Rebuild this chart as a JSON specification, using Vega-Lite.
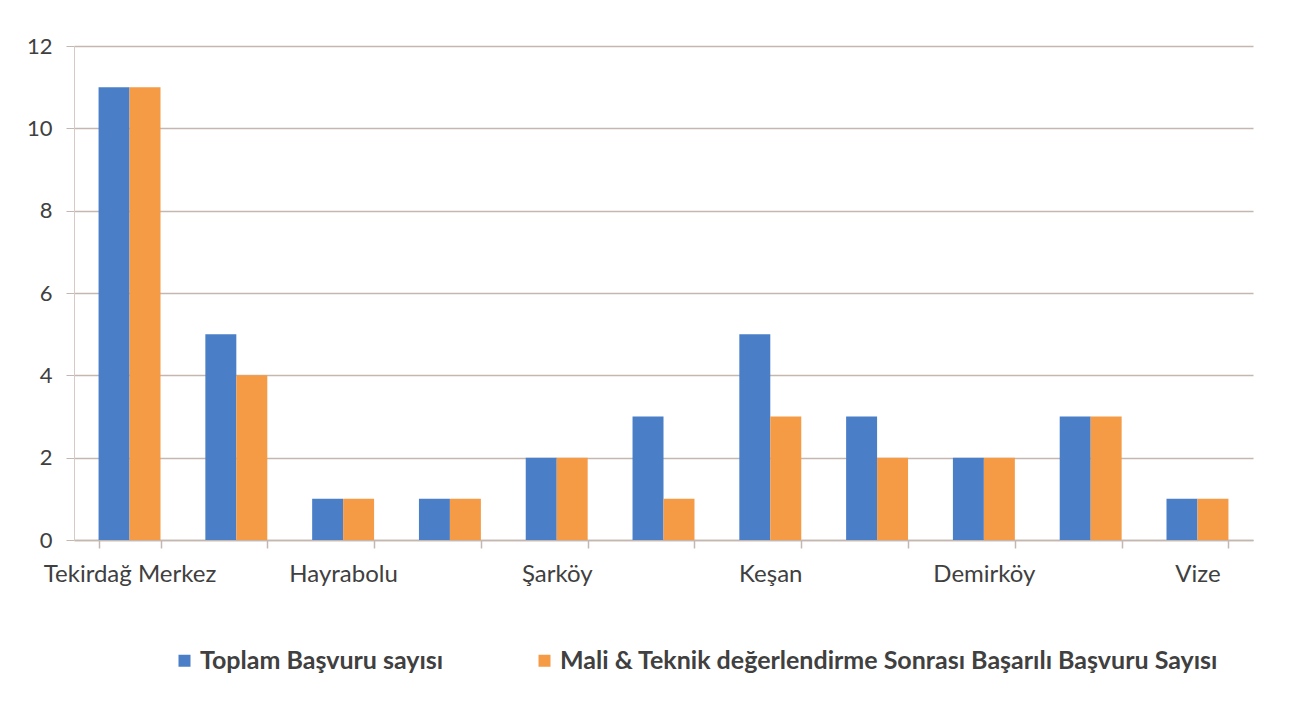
{
  "$schema": "https://vega.github.io/schema/vega-lite/v6.json",
  "width": 1179,
  "height": 494,
  "autosize": {"type": "none"},
  "padding": {"left": 74, "top": 46, "right": 58, "bottom": 168},
  "background": "white",
  "data": {
    "values": [
      {"ilce": "Tekirdağ Merkez", "seri": "Toplam Başvuru sayısı", "deger": 11},
      {"ilce": "Tekirdağ Merkez", "seri": "Mali & Teknik değerlendirme Sonrası Başarılı Başvuru Sayısı", "deger": 11},
      {"ilce": "Çorlu", "seri": "Toplam Başvuru sayısı", "deger": 5},
      {"ilce": "Çorlu", "seri": "Mali & Teknik değerlendirme Sonrası Başarılı Başvuru Sayısı", "deger": 4},
      {"ilce": "Hayrabolu", "seri": "Toplam Başvuru sayısı", "deger": 1},
      {"ilce": "Hayrabolu", "seri": "Mali & Teknik değerlendirme Sonrası Başarılı Başvuru Sayısı", "deger": 1},
      {"ilce": "Malkara", "seri": "Toplam Başvuru sayısı", "deger": 1},
      {"ilce": "Malkara", "seri": "Mali & Teknik değerlendirme Sonrası Başarılı Başvuru Sayısı", "deger": 1},
      {"ilce": "Şarköy", "seri": "Toplam Başvuru sayısı", "deger": 2},
      {"ilce": "Şarköy", "seri": "Mali & Teknik değerlendirme Sonrası Başarılı Başvuru Sayısı", "deger": 2},
      {"ilce": "Uzunköprü", "seri": "Toplam Başvuru sayısı", "deger": 3},
      {"ilce": "Uzunköprü", "seri": "Mali & Teknik değerlendirme Sonrası Başarılı Başvuru Sayısı", "deger": 1},
      {"ilce": "Keşan", "seri": "Toplam Başvuru sayısı", "deger": 5},
      {"ilce": "Keşan", "seri": "Mali & Teknik değerlendirme Sonrası Başarılı Başvuru Sayısı", "deger": 3},
      {"ilce": "Lüleburgaz", "seri": "Toplam Başvuru sayısı", "deger": 3},
      {"ilce": "Lüleburgaz", "seri": "Mali & Teknik değerlendirme Sonrası Başarılı Başvuru Sayısı", "deger": 2},
      {"ilce": "Demirköy", "seri": "Toplam Başvuru sayısı", "deger": 2},
      {"ilce": "Demirköy", "seri": "Mali & Teknik değerlendirme Sonrası Başarılı Başvuru Sayısı", "deger": 2},
      {"ilce": "Pınarhisar", "seri": "Toplam Başvuru sayısı", "deger": 3},
      {"ilce": "Pınarhisar", "seri": "Mali & Teknik değerlendirme Sonrası Başarılı Başvuru Sayısı", "deger": 3},
      {"ilce": "Vize", "seri": "Toplam Başvuru sayısı", "deger": 1},
      {"ilce": "Vize", "seri": "Mali & Teknik değerlendirme Sonrası Başarılı Başvuru Sayısı", "deger": 1}
    ]
  },
  "mark": {"type": "bar"},
  "encoding": {
    "x": {
      "field": "ilce",
      "type": "nominal",
      "sort": null,
      "scale": {"paddingInner": 0.42, "paddingOuter": 0.23},
      "axis": {
        "title": null,
        "labelAngle": 0,
        "tickBand": "extent",
        "labelExpr": "indexof(['Tekirdağ Merkez','Hayrabolu','Şarköy','Keşan','Demirköy','Vize'], datum.value) >= 0 ? datum.value : ''",
        "labelFont": "Lato",
        "labelFontSize": 24,
        "labelColor": "#404040",
        "labelPadding": 14,
        "labelOverlap": false,
        "labelLimit": 0,
        "domainColor": "#c4b6b0",
        "domainWidth": 1.5,
        "tickColor": "#c4b6b0",
        "tickWidth": 1.5,
        "tickSize": 8,
        "grid": false
      }
    },
    "xOffset": {
      "field": "seri",
      "type": "nominal",
      "sort": ["Toplam Başvuru sayısı", "Mali & Teknik değerlendirme Sonrası Başarılı Başvuru Sayısı"],
      "scale": {"paddingInner": 0, "paddingOuter": 0}
    },
    "y": {
      "field": "deger",
      "type": "quantitative",
      "scale": {"domain": [0, 12]},
      "axis": {
        "title": null,
        "values": [0, 2, 4, 6, 8, 10, 12],
        "labelFont": "Lato",
        "labelFontSize": 22,
        "labelColor": "#404040",
        "labelPadding": 14,
        "domainColor": "#d4cbc7",
        "tickColor": "#c4b6b0",
        "tickSize": 8,
        "gridColor": "#c4b6b0",
        "gridWidth": 1.5
      }
    },
    "color": {
      "field": "seri",
      "type": "nominal",
      "sort": ["Toplam Başvuru sayısı", "Mali & Teknik değerlendirme Sonrası Başarılı Başvuru Sayısı"],
      "scale": {"range": ["#4a7fc8", "#f59a45"]},
      "legend": {
        "title": null,
        "orient": "none",
        "direction": "horizontal",
        "legendX": 98,
        "legendY": 602,
        "symbolType": "square",
        "symbolSize": 144,
        "symbolStrokeWidth": 0,
        "labelFont": "Lato",
        "labelFontSize": 25,
        "labelFontWeight": "bold",
        "labelColor": "#404040",
        "labelLimit": 0,
        "columnPadding": 88,
        "labelOffset": 3
      }
    }
  },
  "config": {"view": {"stroke": null}}
}
